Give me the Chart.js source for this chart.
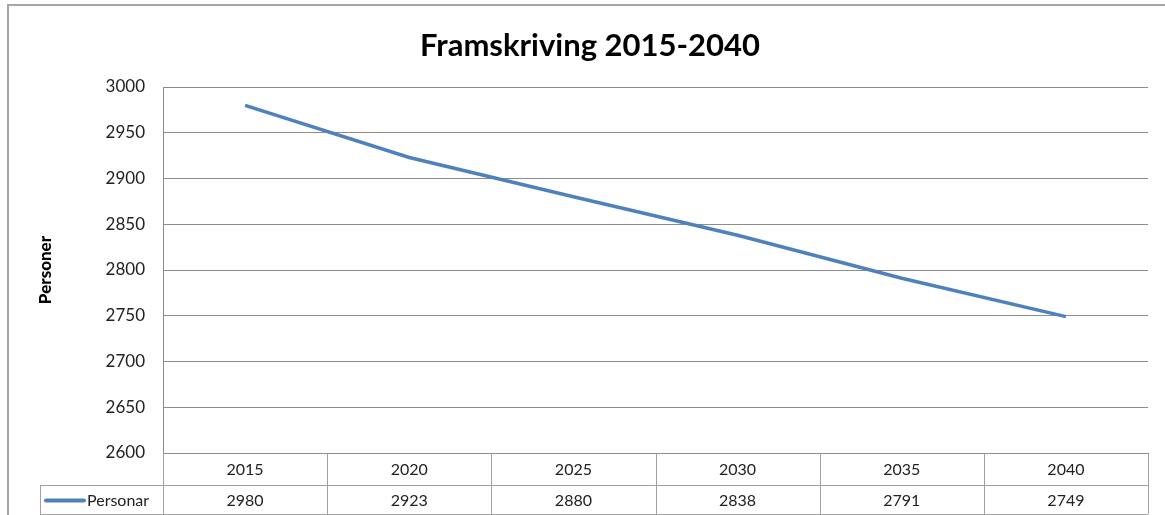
<!DOCTYPE html>
<html>
<head>
<meta charset="utf-8">
<script src="https://cdn.jsdelivr.net/npm/chart.js@4"></script>
<style>
  body { margin: 0; background: #fff; }
  #wrap { position: relative; width: 1165px; height: 515px; }
</style>
</head>
<body>
<div id="wrap"><canvas id="myChart" width="1165" height="515"></canvas></div>
<script>
var years = ["2015", "2020", "2025", "2030", "2035", "2040"];
var personar = [2980, 2923, 2880, 2838, 2791, 2749];
var seriesName = "Personar";
var lineColor = "#4f81bd";

// draws the frame and the data table under the plot
var tablePlugin = {
  id: "dataTable",
  afterDraw: function (chart) {
    var ctx = chart.ctx;
    var area = chart.chartArea;
    var xs = chart.scales.x;
    var colW = (area.right - area.left) / years.length;
    var top = area.bottom, mid = top + 32, bot = mid + 29;
    var legendLeft = 40;

    ctx.save();
    // outer frame
    ctx.strokeStyle = "#a6a6a6";
    ctx.lineWidth = 2;
    ctx.beginPath();
    ctx.moveTo(8, 515); ctx.lineTo(8, 5); ctx.lineTo(1165, 5);
    ctx.stroke();

    ctx.strokeStyle = "#a0a0a0";
    ctx.lineWidth = 1;
    ctx.beginPath();
    ctx.moveTo(area.left, mid + 0.5); ctx.lineTo(area.right, mid + 0.5);
    ctx.moveTo(legendLeft, mid + 0.5); ctx.lineTo(area.left, mid + 0.5);
    ctx.moveTo(legendLeft, bot + 0.5); ctx.lineTo(area.right, bot + 0.5);
    ctx.moveTo(legendLeft + 0.5, mid); ctx.lineTo(legendLeft + 0.5, bot);
    for (var i = 0; i <= years.length; i++) {
      var x = Math.round(area.left + i * colW) + 0.5;
      ctx.moveTo(x, top); ctx.lineTo(x, bot);
    }
    ctx.stroke();

    ctx.fillStyle = "#222";
    ctx.font = "16px Lato, 'Open Sans', sans-serif";
    ctx.textAlign = "center";
    ctx.textBaseline = "middle";
    for (var j = 0; j < years.length; j++) {
      var cx = xs.getPixelForValue(j);
      ctx.fillText(years[j], cx, (top + mid) / 2 + 1);
      ctx.fillText(String(personar[j]), cx, (mid + bot) / 2 + 1);
    }

    // legend key
    ctx.strokeStyle = lineColor;
    ctx.lineWidth = 4;
    ctx.lineCap = "round";
    ctx.beginPath();
    ctx.moveTo(46, (mid + bot) / 2 + 1); ctx.lineTo(84, (mid + bot) / 2 + 1);
    ctx.stroke();
    ctx.textAlign = "left";
    ctx.fillText(seriesName, 87, (mid + bot) / 2 + 1);
    ctx.restore();
  }
};

new Chart("myChart", {
  type: "line",
  data: {
    labels: years,
    datasets: [{
      label: seriesName,
      data: personar,
      borderColor: lineColor,
      borderWidth: 3.5,
      pointRadius: 0,
      tension: 0
    }]
  },
  options: {
    responsive: false,
    animation: false,
    layout: { padding: { left: 8, right: 17, top: 87, bottom: 62 } },
    plugins: {
      legend: { display: false },
      tooltip: { enabled: false },
      title: { display: false }
    },
    scales: {
      x: { display: false, offset: true },
      y: {
        min: 2600,
        max: 3000,
        afterFit: function (scale) { scale.width = 155; },
        ticks: {
          stepSize: 50,
          padding: 18,
          color: "#222",
          font: { family: "Lato, 'Open Sans', sans-serif", size: 17 },
          callback: function (v) { return String(v); }
        },
        grid: { color: "#8c8c8c", drawTicks: false },
        border: { color: "#8c8c8c" },
        title: {
          display: true,
          text: "Personer",
          color: "#000",
          padding: { top: 27, bottom: 0 },
          font: { family: "Lato, 'Open Sans', sans-serif", size: 17, weight: "900" }
        }
      }
    }
  },
  plugins: [tablePlugin, {
    id: "chartTitle",
    afterDraw: function (chart) {
      var ctx = chart.ctx;
      ctx.save();
      ctx.fillStyle = "#000";
      ctx.font = "bold 31px Lato, 'Open Sans', sans-serif";
      ctx.textAlign = "center";
      ctx.textBaseline = "middle";
      ctx.fillText("Framskriving 2015-2040", 590, 46);
      ctx.restore();
    }
  }]
});
</script>
</body>
</html>
